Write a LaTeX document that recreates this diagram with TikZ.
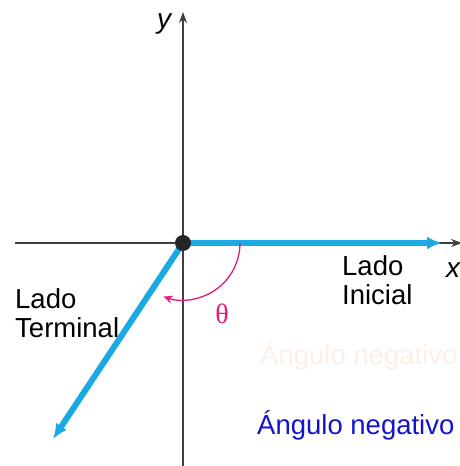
\documentclass[tikz,border=0pt]{standalone}
\usepackage{fontspec}
\setmainfont{Liberation Sans}
\newfontfamily\thetafont{Liberation Serif}
\usetikzlibrary{arrows.meta,positioning}
\definecolor{sideblue}{HTML}{1BA9E1}
\definecolor{anglepink}{HTML}{E8197D}
\definecolor{textblue}{HTML}{1414CC}
\definecolor{ghost}{HTML}{FBEFE6}
\begin{document}
\begin{tikzpicture}[
  x=1pt, y=1pt,
  font=\fontsize{27.5}{29}\selectfont,
  axis/.style={-{Stealth[length=11pt,width=8pt]}, line width=1.4pt, black!75},
  side/.style={-{Latex[length=15pt,width=13pt]}, line width=6pt, sideblue},
  label/.style={align=left, inner sep=0pt}
]
\useasboundingbox (0,0) rectangle (460,466);
\clip (0,0) rectangle (460,466);
% axes
\coordinate (O) at (183,223);
\coordinate (xl) at (15,223);
\coordinate (xr) at (462,223);
\coordinate (yb) at (183,-2);
\coordinate (yt) at (183,454);
\draw[axis] (xl) -- (xr);
\draw[axis] (yb) -- (yt);
\node[font=\fontsize{28}{30}\selectfont\itshape] (ylab) at (164,442) {y};
\node[font=\fontsize{28}{30}\selectfont\itshape, anchor=west, inner sep=0pt] (xlab) at (446,196) {x};
% sides of the angle
\coordinate (ini) at (442,223);
\coordinate (ter) at (53,27);
\draw[side] (O) -- (ini);
\draw[side] (O) -- (ter);
\fill[black!85] (O) circle (8);
% angle
\draw[anglepink, line width=1.3pt, -{Stealth[length=9pt,width=8pt]}]
  ([shift={(0:57)}]O) arc[start angle=0, end angle=-110, radius=57];
\node[anglepink, font=\fontsize{28}{30}\thetafont] (theta) at (222,152) {θ};
% labels
\node[label, anchor=west] (lini) at (342,186) {Lado\\Inicial};
\node[label, anchor=west] (lter) at (15,153) {Lado\\Terminal};
\node[label, anchor=west, ghost] (ghostlab) at (260,111) {Ángulo negativo};
\node[label, anchor=west, textblue] (neg) at (257,41) {Ángulo negativo};
\end{tikzpicture}
\end{document}
